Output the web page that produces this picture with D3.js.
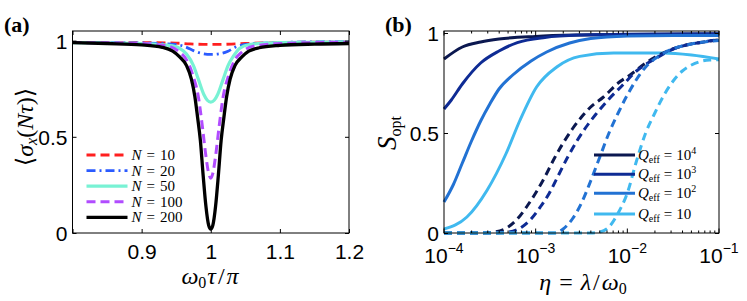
<!DOCTYPE html>
<html>
<head>
<meta charset="utf-8">
<script src="https://cdn.jsdelivr.net/npm/d3@7"></script>
<style>
body { margin: 0; background: #fff; }
svg { display: block; }
</style>
</head>
<body>
<div class="canvas"></div>
<script>
// ---- panel (a) data: <sigma_x(N tau)> vs omega0 tau / pi ----
const aTicksX = [0.8, 0.9, 1, 1.1, 1.2];
const aTicksY = [0, 0.5, 1];
const aNames = ['10', '20', '50', '100', '200'];
const aColors = ['#ff1f1f', '#2b5bff', '#78f2d4', '#b14cff', '#000000'];

const n10 = [[0.80, 0.99], [0.90, 0.99], [0.95, 0.987], [0.97, 0.983], [1.00, 0.98],
    [1.03, 0.982], [1.05, 0.985], [1.10, 0.99], [1.20, 0.993]];
const n20 = [[0.80, 0.99], [0.90, 0.988], [0.95, 0.98], [0.965, 0.965], [0.975, 0.948],
    [0.985, 0.935], [1.00, 0.928], [1.015, 0.933], [1.025, 0.945], [1.035, 0.965],
    [1.05, 0.98], [1.10, 0.99], [1.20, 0.995]];
const n50 = [[0.80, 0.99], [0.90, 0.985], [0.94, 0.975], [0.955, 0.96], [0.965, 0.93],
    [0.975, 0.87], [0.982, 0.80], [0.99, 0.72], [0.995, 0.69], [1.00, 0.68],
    [1.005, 0.69], [1.01, 0.72], [1.018, 0.80], [1.025, 0.87], [1.033, 0.92],
    [1.042, 0.96], [1.056, 0.98], [1.10, 0.99], [1.20, 0.993]];
const n100 = [[0.80, 0.99], [0.90, 0.985], [0.94, 0.97], [0.955, 0.94], [0.965, 0.90],
    [0.975, 0.81], [0.982, 0.71], [0.988, 0.55], [0.993, 0.40], [0.997, 0.31],
    [1.00, 0.285], [1.003, 0.31], [1.007, 0.40], [1.012, 0.55], [1.018, 0.71],
    [1.025, 0.81], [1.035, 0.90], [1.045, 0.94], [1.06, 0.97], [1.10, 0.985], [1.20, 0.992]];
const n200 = [[0.80, 0.99], [0.85, 0.985], [0.90, 0.978], [0.93, 0.965], [0.945, 0.945],
    [0.955, 0.915], [0.965, 0.87], [0.972, 0.80], [0.977, 0.71], [0.981, 0.60],
    [0.985, 0.48], [0.989, 0.30], [0.993, 0.14], [0.997, 0.04], [1.00, 0.02],
    [1.003, 0.04], [1.007, 0.14], [1.011, 0.30], [1.015, 0.48], [1.019, 0.60],
    [1.023, 0.71], [1.028, 0.80], [1.035, 0.87], [1.045, 0.915], [1.055, 0.945],
    [1.07, 0.963], [1.10, 0.975], [1.15, 0.982], [1.20, 0.985]];
const aSeries = [n10, n20, n50, n100, n200];

// ---- panel (b) data: S_opt vs log10(eta) ----
const bDecades = [-4, -3, -2, -1];
const bTicksY = [0, 0.5, 1];
const qNames = ['4', '3', '2', ''];
const bColors = ['#0b1850', '#0e2b94', '#2272d3', '#40b9ef'];

const q4Solid = [[-4, 0.87], [-3.8, 0.93], [-3.6, 0.955], [-3.4, 0.97], [-3.0, 0.983],
    [-2.5, 0.99], [-2, 0.993], [-1, 0.995]];
const q3Solid = [[-4, 0.62], [-3.92, 0.665], [-3.8, 0.745], [-3.6, 0.85], [-3.4, 0.91],
    [-3.2, 0.952], [-2.9, 0.978], [-2.5, 0.99], [-2, 0.994], [-1, 0.996]];
const q2Solid = [[-4, 0.155], [-3.9, 0.24], [-3.8, 0.35], [-3.7, 0.46], [-3.6, 0.56],
    [-3.5, 0.645], [-3.4, 0.72], [-3.25, 0.79], [-3.05, 0.86], [-2.88, 0.905],
    [-2.63, 0.95], [-2.4, 0.972], [-2, 0.985], [-1.5, 0.988], [-1, 0.988]];
const q1Solid = [[-4, 0.02], [-3.75, 0.08], [-3.53, 0.214], [-3.32, 0.40], [-3.17, 0.565],
    [-2.99, 0.73], [-2.77, 0.83], [-2.52, 0.883], [-2.15, 0.90], [-1.61, 0.90],
    [-1.3, 0.89], [-1, 0.87]];
const q4Dash = [[-4, 0], [-3.6, 0], [-3.45, 0.005], [-3.3, 0.03], [-3.2, 0.07],
    [-3.1, 0.13], [-3.0, 0.2], [-2.9, 0.28], [-2.8, 0.37], [-2.7, 0.45], [-2.6, 0.52],
    [-2.5, 0.58], [-2.4, 0.63], [-2.26, 0.68], [-2.1, 0.75], [-1.97, 0.79],
    [-1.8, 0.85], [-1.61, 0.90], [-1.4, 0.935], [-1.24, 0.95], [-1, 0.966]];
const q3Dash = [[-4, 0], [-3.5, 0], [-3.3, 0.005], [-3.15, 0.03], [-3.05, 0.07],
    [-2.95, 0.13], [-2.85, 0.2], [-2.75, 0.29], [-2.65, 0.38], [-2.55, 0.46],
    [-2.45, 0.53], [-2.35, 0.59], [-2.2, 0.67], [-2.05, 0.74], [-1.9, 0.81],
    [-1.7, 0.87], [-1.5, 0.92], [-1.24, 0.95], [-1, 0.966]];
const q2Dash = [[-4, 0], [-2.8, 0], [-2.7, 0.02], [-2.6, 0.07], [-2.5, 0.15],
    [-2.4, 0.26], [-2.3, 0.38], [-2.2, 0.5], [-2.1, 0.6], [-2.0, 0.69], [-1.8, 0.83],
    [-1.6, 0.9], [-1.3, 0.945], [-1, 0.963]];
const q1Dash = [[-4, 0], [-2.4, 0], [-2.3, 0.005], [-2.2, 0.03], [-2.1, 0.1],
    [-2.0, 0.2], [-1.9, 0.36], [-1.8, 0.5], [-1.7, 0.6], [-1.6, 0.69], [-1.5, 0.76],
    [-1.4, 0.81], [-1.3, 0.84], [-1.2, 0.858], [-1.1, 0.865], [-1, 0.866]];
const bSolid = [q4Solid, q3Solid, q2Solid, q1Solid];
const bDash = [q4Dash, q3Dash, q2Dash, q1Dash];

const serif = '"Liberation Serif", "DejaVu Serif", serif';
const sans = '"Liberation Sans", Arial, sans-serif';

const svg = d3.select('.canvas')
    .append('svg')
    .attr('width', 747)
    .attr('height', 301);

// ============ panel (a) ============
const xa = d3.scaleLinear().domain([0.8, 1.2]).range([72.5, 349]);
const ya = d3.scaleLinear().domain([0, 1.05]).range([233, 31]);

const ga = svg.append('g');

const lineA = d3.line()
    .x(d => xa(d[0]))
    .y(d => ya(d[1]))
    .curve(d3.curveMonotoneX);

const aDash = ['9,5', '9,4,2,4', null, '9,5', null];
const aWidth = [2.8, 2.8, 3.2, 3, 3.3];

aSeries.forEach((s, i) => {
    ga.append('path')
        .datum(s)
        .attr('d', lineA)
        .attr('fill', 'none')
        .attr('stroke', aColors[i])
        .attr('stroke-width', aWidth[i])
        .attr('stroke-dasharray', aDash[i]);
});

// box + inward ticks
ga.append('rect')
    .attr('x', xa(0.8)).attr('y', ya(1.05))
    .attr('width', xa(1.2) - xa(0.8)).attr('height', ya(0) - ya(1.05))
    .attr('fill', 'none').attr('stroke', '#000').attr('stroke-width', 1);

ga.append('g').attr('transform', `translate(0,${ya(0)})`)
    .call(d3.axisBottom(xa).tickValues(aTicksX).tickSizeInner(-4).tickSizeOuter(0).tickFormat(d3.format('')))
    .call(g => g.select('.domain').remove())
    .call(g => g.selectAll('text').attr('dy', null).attr('y', 26)
        .style('font-family', sans).style('font-size', '21px').attr('fill', '#000'))
    .call(g => g.selectAll('text').filter(d => d === 0.8).remove());
ga.append('g').attr('transform', `translate(0,${ya(1.05)})`)
    .call(d3.axisTop(xa).tickValues(aTicksX).tickSizeInner(-4).tickSizeOuter(0).tickFormat(''))
    .call(g => g.select('.domain').remove());
ga.append('g').attr('transform', `translate(${xa(0.8)},0)`)
    .call(d3.axisLeft(ya).tickValues(aTicksY).tickSizeInner(-4).tickSizeOuter(0).tickFormat(d3.format('')))
    .call(g => g.select('.domain').remove())
    .call(g => g.selectAll('text').attr('x', -5).attr('dy', '0.36em')
        .style('font-family', sans).style('font-size', '21px').attr('fill', '#000'));
ga.append('g').attr('transform', `translate(${xa(1.2)},0)`)
    .call(d3.axisRight(ya).tickValues(aTicksY).tickSizeInner(-4).tickSizeOuter(0).tickFormat(''))
    .call(g => g.select('.domain').remove());

// legend (a)
const legA = ga.append('g').attr('transform', `translate(${xa(0.8) + 14},155)`);
aNames.forEach((n, i) => {
    const row = legA.append('g').attr('transform', `translate(0,${i * 15.6})`);
    row.append('line').attr('x1', 0).attr('x2', 41)
        .attr('stroke', aColors[i]).attr('stroke-width', aWidth[i])
        .attr('stroke-dasharray', aDash[i]);
    const t = row.append('text').attr('x', 45).attr('y', 5)
        .style('font-family', serif).style('font-size', '15px');
    t.append('tspan').attr('font-style', 'italic').text('N');
    t.append('tspan').attr('dx', 5).text('=');
    t.append('tspan').attr('dx', 5).text(n);
});

// axis labels (a)
const xlabA = ga.append('text').attr('x', 210).attr('y', 284)
    .attr('text-anchor', 'middle').style('font-family', serif).style('font-size', '24px');
xlabA.append('tspan').attr('font-style', 'italic').text('ω');
xlabA.append('tspan').attr('font-size', '16px').attr('dy', 4).text('0');
xlabA.append('tspan').attr('font-style', 'italic').attr('dy', -4).attr('dx', 1).text('τ');
xlabA.append('tspan').attr('dx', 2).text('/');
xlabA.append('tspan').attr('dx', 2).attr('font-style', 'italic').text('π');

const ylabA = ga.append('text')
    .attr('transform', 'translate(33,127) rotate(-90)')
    .attr('text-anchor', 'middle').style('font-family', serif).style('font-size', '24px');
ylabA.append('tspan').text('⟨');
ylabA.append('tspan').attr('font-style', 'italic').text('σ');
ylabA.append('tspan').attr('font-style', 'italic').attr('font-size', '16px').attr('dy', 4).text('x');
ylabA.append('tspan').attr('dy', -4).text('(');
ylabA.append('tspan').attr('font-style', 'italic').text('Nτ');
ylabA.append('tspan').text(')⟩');

svg.append('text').attr('x', 4).attr('y', 32)
    .style('font-family', serif).style('font-size', '22px').style('font-weight', 'bold')
    .text('(a)');

// ============ panel (b) ============
const xb = d3.scaleLog().domain([1e-4, 1e-1]).range([444, 719]);
const yb = d3.scaleLinear().domain([0, 1.01]).range([233, 31]);

const gb = svg.append('g');

const lineB = d3.line()
    .x(d => xb(Math.pow(10, d[0])))
    .y(d => yb(d[1]))
    .curve(d3.curveMonotoneX);

bSolid.forEach((s, i) => {
    gb.append('path').datum(s).attr('d', lineB)
        .attr('fill', 'none').attr('stroke', bColors[i]).attr('stroke-width', 3);
});
bDash.forEach((s, i) => {
    gb.append('path').datum(s).attr('d', lineB)
        .attr('fill', 'none').attr('stroke', bColors[i]).attr('stroke-width', 3)
        .attr('stroke-dasharray', '8,5');
});

gb.append('rect')
    .attr('x', xb(1e-4)).attr('y', yb(1.01))
    .attr('width', xb(1e-1) - xb(1e-4)).attr('height', yb(0) - yb(1.01))
    .attr('fill', 'none').attr('stroke', '#000').attr('stroke-width', 1);

// minor + major log ticks on bottom and top
const majorB = bDecades.map(e => Math.pow(10, e));
const minorB = [];
bDecades.slice(0, -1).forEach(e => {
    for (let k = 2; k <= 9; k++) minorB.push(k * Math.pow(10, e));
});
[yb(0), yb(1.01)].forEach((yy, j) => {
    const dir = j === 0 ? -1 : 1;
    gb.selectAll(null).data(minorB).enter().append('line')
        .attr('x1', d => xb(d)).attr('x2', d => xb(d))
        .attr('y1', yy).attr('y2', yy + dir * 2.5)
        .attr('stroke', '#000').attr('stroke-width', 1);
    gb.selectAll(null).data(majorB).enter().append('line')
        .attr('x1', d => xb(d)).attr('x2', d => xb(d))
        .attr('y1', yy).attr('y2', yy + dir * 4.5)
        .attr('stroke', '#000').attr('stroke-width', 1);
});

// x tick labels 10^e
bDecades.forEach(e => {
    const t = gb.append('text').attr('x', xb(Math.pow(10, e))).attr('y', 263)
        .attr('text-anchor', 'middle').style('font-family', sans).style('font-size', '21px');
    t.append('tspan').text('10');
    t.append('tspan').attr('font-size', '14px').attr('dy', -10).text('−' + Math.abs(e));
});

gb.append('g').attr('transform', `translate(${xb(1e-4)},0)`)
    .call(d3.axisLeft(yb).tickValues(bTicksY).tickSizeInner(-4).tickSizeOuter(0).tickFormat(d3.format('')))
    .call(g => g.select('.domain').remove())
    .call(g => g.selectAll('text').attr('x', -5).attr('dy', '0.36em')
        .style('font-family', sans).style('font-size', '21px').attr('fill', '#000'));
gb.append('g').attr('transform', `translate(${xb(1e-1)},0)`)
    .call(d3.axisRight(yb).tickValues(bTicksY).tickSizeInner(-4).tickSizeOuter(0).tickFormat(''))
    .call(g => g.select('.domain').remove());

// legend (b)
const legB = gb.append('g').attr('transform', 'translate(594,155)');
const legRowY = [0, 19.3, 38.3, 59];
qNames.forEach((q, i) => {
    const row = legB.append('g').attr('transform', `translate(0,${legRowY[i]})`);
    row.append('line').attr('x1', 0).attr('x2', 41)
        .attr('stroke', bColors[i]).attr('stroke-width', 3);
    const t = row.append('text').attr('x', 44).attr('y', 5)
        .style('font-family', serif).style('font-size', '15px');
    t.append('tspan').attr('font-style', 'italic').text('Q');
    t.append('tspan').attr('font-size', '10px').attr('dy', 3).text('eff');
    t.append('tspan').attr('dx', 4).attr('dy', -3).text('=');
    t.append('tspan').attr('dx', 4).text('10');
    if (q) t.append('tspan').attr('font-size', '10px').attr('dy', -6).text(q);
});

// axis labels (b)
const xlabB = gb.append('text').attr('x', 583).attr('y', 290)
    .attr('text-anchor', 'middle').style('font-family', serif).style('font-size', '24px');
xlabB.append('tspan').attr('font-style', 'italic').text('η');
xlabB.append('tspan').attr('dx', 8).text('=');
xlabB.append('tspan').attr('dx', 8).attr('font-style', 'italic').text('λ');
xlabB.append('tspan').attr('dx', 2).text('/');
xlabB.append('tspan').attr('dx', 2).attr('font-style', 'italic').text('ω');
xlabB.append('tspan').attr('font-size', '16px').attr('dy', 4).text('0');

const ylabB = gb.append('text')
    .attr('transform', 'translate(396,133) rotate(-90)')
    .attr('text-anchor', 'middle').style('font-family', serif).style('font-size', '27px');
ylabB.append('tspan').attr('font-style', 'italic').text('S');
ylabB.append('tspan').attr('font-size', '16px').attr('dy', 5).text('opt');

svg.append('text').attr('x', 385).attr('y', 32)
    .style('font-family', serif).style('font-size', '22px').style('font-weight', 'bold')
    .text('(b)');
</script>
</body>
</html>
